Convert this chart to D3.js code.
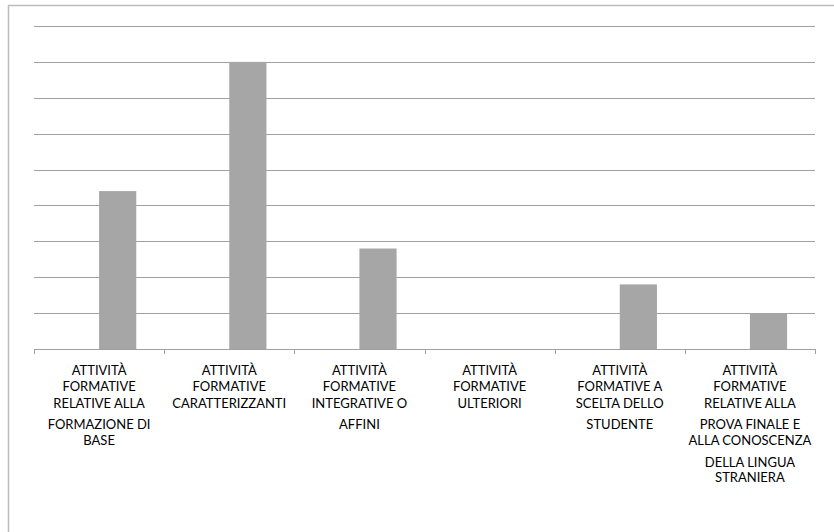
<!DOCTYPE html>
<html>
<head>
<meta charset="utf-8">
<script src="https://cdn.jsdelivr.net/npm/d3@7"></script>
<style>
  body { margin: 0; background: #fff; }
  svg { display: block; }
</style>
</head>
<body>
<svg id="chart" width="834" height="532"></svg>
<script>
// categories, each label already split in lines the way the picture wraps them
var categories = ['base', 'caratt', 'integr', 'ulter', 'scelta', 'prova']
var labelLines = [
  ['ATTIVITÀ', 'FORMATIVE', 'RELATIVE ALLA', 'FORMAZIONE DI', 'BASE'],
  ['ATTIVITÀ', 'FORMATIVE', 'CARATTERIZZANTI'],
  ['ATTIVITÀ', 'FORMATIVE', 'INTEGRATIVE O', 'AFFINI'],
  ['ATTIVITÀ', 'FORMATIVE', 'ULTERIORI'],
  ['ATTIVITÀ', 'FORMATIVE A', 'SCELTA DELLO', 'STUDENTE'],
  ['ATTIVITÀ', 'FORMATIVE', 'RELATIVE ALLA', 'PROVA FINALE E', 'ALLA CONOSCENZA', 'DELLA LINGUA', 'STRANIERA']
]
// two series: the first one is empty in the picture, the second holds the CFU
var seriesNames = ['s1', 'CFU']
var emptySeries = [0, 0, 0, 0, 0, 0]
var cfu = [44, 80, 28, 0, 18, 10]
var yTicks = [0, 10, 20, 30, 40, 50, 60, 70, 80, 90]

var svg = d3.select('#chart')

// outer frame (only left and top edges are in view)
svg.append('path')
  .attr('d', 'M8.5,540 V5.5 H840')
  .attr('fill', 'none')
  .attr('stroke', '#bcbcbc')
  .attr('stroke-width', 1.5)

var plotLeft = 34, plotRight = 815, plotTop = 26, plotBottom = 349

var x0 = d3.scaleBand().domain(categories).range([plotLeft, plotRight]).padding(0)
var x1 = d3.scaleBand().domain(seriesNames).range([0, x0.bandwidth()])
  .paddingInner(0).paddingOuter(0.75)
var y = d3.scaleLinear().domain([0, 90]).range([plotBottom, plotTop])

// gridlines
svg.append('g')
  .selectAll('line')
  .data(yTicks.slice(1))
  .enter().append('line')
  .attr('x1', plotLeft)
  .attr('x2', plotRight)
  .attr('y1', function (d) { return Math.round(y(d)) + 0.5 })
  .attr('y2', function (d) { return Math.round(y(d)) + 0.5 })
  .attr('stroke', '#a0a0a0')
  .attr('stroke-width', 1)

// bars
var rows = categories.map(function (c, i) {
  return [{ cat: c, s: 's1', v: emptySeries[i] }, { cat: c, s: 'CFU', v: cfu[i] }]
})
svg.append('g')
  .selectAll('g')
  .data(rows)
  .enter().append('g')
  .attr('transform', function (d) { return 'translate(' + x0(d[0].cat) + ',0)' })
  .selectAll('rect')
  .data(function (d) { return d.filter(function (e) { return e.v > 0 }) })
  .enter().append('rect')
  .attr('x', function (d) { return x1(d.s) })
  .attr('width', x1.bandwidth())
  .attr('y', function (d) { return y(d.v) })
  .attr('height', function (d) { return y(0) - y(d.v) })
  .attr('fill', '#a6a6a6')

// category axis with ticks between categories
var edges = categories.map(function (c) { return x0(c) }).concat([plotRight])
var axis = svg.append('g')
axis.append('line')
  .attr('x1', plotLeft).attr('x2', plotRight)
  .attr('y1', plotBottom + 0.5).attr('y2', plotBottom + 0.5)
  .attr('stroke', '#a0a0a0')
axis.selectAll('.tick')
  .data(edges)
  .enter().append('line')
  .attr('class', 'tick')
  .attr('x1', function (d) { return Math.round(d) + 0.5 })
  .attr('x2', function (d) { return Math.round(d) + 0.5 })
  .attr('y1', plotBottom)
  .attr('y2', plotBottom + 5)
  .attr('stroke', '#a0a0a0')

// labels, line offsets as they appear in the picture
var lineOffsets = [0, 16.5, 33, 54.5, 70.5, 92, 107]
var labels = svg.append('g')
  .attr('font-family', 'Lato, sans-serif')
  .attr('font-size', '13px')
  .attr('fill', '#000')
  .attr('text-anchor', 'middle')
labels.selectAll('text')
  .data(categories)
  .enter().append('text')
  .attr('transform', function (d) { return 'translate(' + (x0(d) + x0.bandwidth() / 2) + ',' + 374.5 + ')' })
  .each(function (d, i) {
    d3.select(this).selectAll('tspan')
      .data(labelLines[i])
      .enter().append('tspan')
      .attr('x', 0)
      .attr('y', function (t, j) { return lineOffsets[j] })
      .text(function (t) { return t })
  })
</script>
</body>
</html>
